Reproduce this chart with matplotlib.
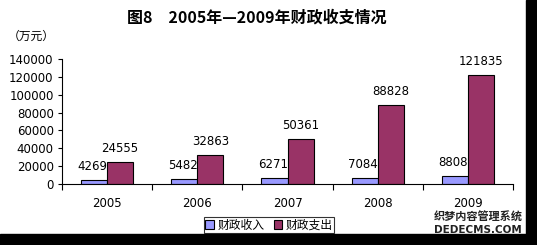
import numpy as np
import matplotlib.pyplot as plt
import matplotlib.patches as mpatches

plt.rcParams['font.family'] = ['Noto Sans CJK SC', 'DejaVu Sans']

years = ["2005", "2006", "2007", "2008", "2009"]
income = [4269, 5482, 6271, 7084, 8808]
expense = [24555, 32863, 50361, 88828, 121835]
series_names = ["财政收入", "财政支出"]
yticks = [0, 20000, 40000, 60000, 80000, 100000, 120000, 140000]

fig = plt.figure(figsize=(5.37, 2.45), dpi=100)
fig.patch.set_facecolor("white")
ax = fig.add_axes([62 / 537, 1 - 184 / 245, 451 / 537, 125 / 245])

x = np.arange(len(years))
w = 0.29
b1 = ax.bar(x - w / 2, income, w, color="#9999FF", edgecolor="black", linewidth=0.8,
            label=series_names[0])
b2 = ax.bar(x + w / 2, expense, w, color="#993366", edgecolor="black", linewidth=0.8,
            label=series_names[1])

# value labels, a few pixels above each bar
for i in range(len(years)):
    ax.annotate(str(income[i]), (x[i] - w / 2, income[i]), xytext=(-1, 5),
                textcoords="offset points", ha="center", va="bottom",
                fontsize=8.5, family="DejaVu Sans")
    ax.annotate(str(expense[i]), (x[i] + w / 2, expense[i]), xytext=(0, 5),
                textcoords="offset points", ha="center", va="bottom",
                fontsize=8.5, family="DejaVu Sans")

ax.set_xlim(-0.5, len(years) - 0.5)
ax.set_ylim(0, 140000)
ax.set_yticks(yticks)
ax.set_yticklabels([str(v) for v in yticks], fontsize=8.5, family="DejaVu Sans")
ax.set_xticks(x)
ax.set_xticklabels(years, fontsize=8.5, family="DejaVu Sans")
ax.tick_params(axis="x", length=0, pad=9.5)
ax.set_xticks(np.arange(len(years) + 1) - 0.5, minor=True)
ax.tick_params(axis="x", which="minor", length=4, width=0.8, direction="out")
ax.tick_params(axis="y", length=3, width=0.8, direction="out", pad=3)
for s in ["top", "right"]:
    ax.spines[s].set_visible(False)
ax.spines["left"].set_linewidth(0.8)
ax.spines["bottom"].set_linewidth(0.8)

fig.text(257 / 537, 1 - 17 / 245, "图8　2005年—2009年财政收支情况", ha="center", va="center",
         fontsize=11.5, fontweight="bold")
fig.text(8 / 537, 1 - 36 / 245, "（万元）", ha="left", va="center", fontsize=8.5)

leg = fig.legend(handles=[b1, b2], loc="center", bbox_to_anchor=(269 / 537, 1 - 225 / 245),
                 ncol=2, fontsize=8.5, frameon=True, fancybox=False, handlelength=0.7,
                 handleheight=0.7, handletextpad=0.3, columnspacing=0.8, borderpad=0.15,
                 borderaxespad=0)
leg.get_frame().set_edgecolor("black")
leg.get_frame().set_linewidth(0.8)

# watermark
fig.text(478 / 537, 1 - 217.5 / 245, "织梦内容管理系统", ha="center", va="center", fontsize=8,
         fontweight="bold", color="#222222")
fig.text(478 / 537, 1 - 230 / 245, "DEDECMS.COM", ha="center", va="center", fontsize=7.5,
         fontweight="bold", color="#222222", family="DejaVu Sans")

# black borders at right and bottom
fig.patches.append(mpatches.Rectangle((526 / 537, 0), 11 / 537, 1, transform=fig.transFigure,
                                      color="black", zorder=10))
fig.patches.append(mpatches.Rectangle((0, 0), 1, 11 / 245, transform=fig.transFigure,
                                      color="black", zorder=10))

fig.savefig("out.png", dpi=100, facecolor="white")
